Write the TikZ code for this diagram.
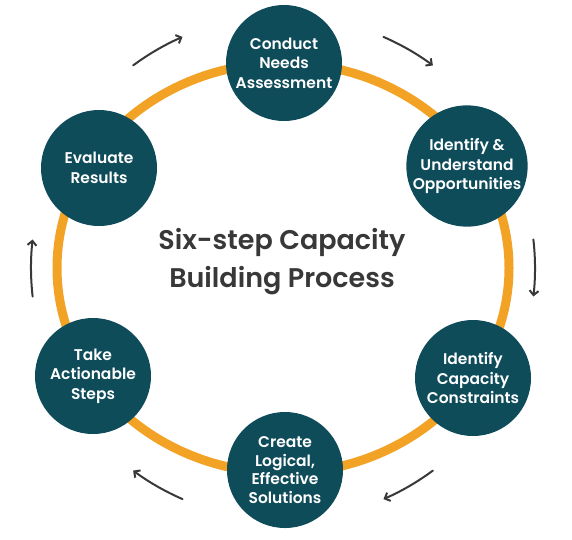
\documentclass[tikz,border=0pt]{standalone}
\usepackage{fontspec}
\setmainfont{Poppins}[BoldFont={Poppins SemiBold}]
\usetikzlibrary{arrows.meta}

\definecolor{stepteal}{HTML}{0F4C5A}
\definecolor{ringorange}{HTML}{F2A225}
\definecolor{inkgray}{HTML}{383838}

\tikzset{
  stepnode/.style={circle, fill=stepteal, minimum size=116pt, inner sep=0pt,
    text=white, align=center, font=\bfseries\fontsize{15.5}{19.5}\selectfont},
  ringline/.style={draw=ringorange, line width=9pt},
  turnarrow/.style={draw=inkgray, line width=2pt, line cap=round,
    -{Straight Barb[length=4.5pt,width=9pt,line width=2pt]}}
}

\begin{document}
\begin{tikzpicture}[x=1pt,y=-1pt]
\useasboundingbox (0,0) rectangle (572,539);

\coordinate (hub) at (283,268);

% ring and turning arrows
\draw[ringline] (hub) ellipse [x radius=226, y radius=205];
\foreach \a in {120,60,0,-60,-120,180}
  \draw[turnarrow] (hub) ++(-\a-6.5:252) arc [start angle=-\a-6.5, end angle=-\a+6.5, radius=252];

% the six steps
\node[stepnode] (conduct)     at (284,63)  {Conduct\\Needs\\Assessment};
\node[stepnode] (understand)  at (467,166) {Identify \&\\Understand\\Opportunities};
\node[stepnode] (constraints) at (473,378) {Identify\\Capacity\\Constraints};
\node[stepnode, font=\bfseries\fontsize{15.5}{18.5}\selectfont]
                (solutions)   at (285,470) {Create\\Logical,\\Effective\\Solutions};
\node[stepnode] (actions)     at (93,376)  {Take\\Actionable\\Steps};
\node[stepnode] (evaluate)    at (99,168)  {Evaluate\\Results};

\node[text=inkgray, align=center, font=\bfseries\fontsize{27}{38}\selectfont]
  (title) at (282,262) {Six-step Capacity\\Building Process};

\end{tikzpicture}
\end{document}
